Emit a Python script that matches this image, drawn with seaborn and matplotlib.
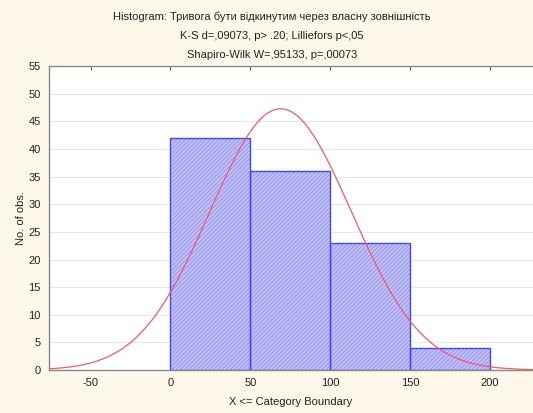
import numpy as np
import pandas as pd
import matplotlib
matplotlib.use("Agg")
import matplotlib.pyplot as plt
import seaborn as sns

# Data
bin_edges = [0, 50, 100, 150, 200]
bin_counts = [42, 36, 23, 4]
normal_mean = 69.0
normal_sd = 44.3
x_ticks = [-50, 0, 50, 100, 150, 200]
y_ticks = list(range(0, 56, 5))
title_lines = [
    "Histogram: Тривога бути відкинутим через власну зовнішність",
    "K-S d=,09073, p> .20; Lilliefors p<,05",
    "Shapiro-Wilk W=,95133, p=,00073",
]
x_label = "X <= Category Boundary"
y_label = "No. of obs."

sns.set_style("white")
plt.rcParams['font.family'] = ['Liberation Sans', 'DejaVu Sans']
plt.rcParams['hatch.linewidth'] = 0.5
plt.rcParams['axes.unicode_minus'] = False

fig = plt.figure(figsize=(5.33, 4.13), dpi=100, facecolor="#fdf8ea")
ax = fig.add_axes([0.092, 0.104, 0.908, 0.736])
ax.set_facecolor("white")

df = pd.DataFrame({"x": [e + 25 for e in bin_edges[:-1]], "w": bin_counts})
# hatched fill
sns.histplot(data=df, x="x", weights="w", bins=bin_edges, ax=ax,
             color="#bdbdf5", edgecolor="#8e8eee", linewidth=0.0, alpha=1.0)
for p in ax.patches:
    p.set_hatch("////////")
    p.set_facecolor("#c0c0f6")
    p.set_edgecolor("#8a8aee")
    p.set_linewidth(0)
n_fill = len(ax.patches)
# outlines
sns.histplot(data=df, x="x", weights="w", bins=bin_edges, ax=ax,
             fill=False, color="#4646e6", edgecolor="#4646e6", linewidth=1.0)
for p in ax.patches[n_fill:]:
    p.set_edgecolor("#4646e6")
    p.set_facecolor("none")
    p.set_linewidth(1.0)

N = sum(bin_counts)
bw = bin_edges[1] - bin_edges[0]
xs = np.linspace(-80, 230, 400)
ys = N * bw * np.exp(-0.5 * ((xs - normal_mean) / normal_sd) ** 2) / (normal_sd * np.sqrt(2 * np.pi))
sns.lineplot(x=xs, y=ys, ax=ax, color="#ee5a6e", linewidth=0.9)

ax.set_xlim(-76, 227)
ax.set_ylim(0, 55)
ax.set_xticks(x_ticks)
ax.set_yticks(y_ticks)
ax.yaxis.grid(True, color="#e8e8e8", linewidth=0.8)
ax.set_axisbelow(True)
ax.tick_params(direction="in", length=3, top=True, right=False, labelsize=8,
               colors="#555555", labelcolor="#222222", pad=6)
for s in ["left", "bottom", "top"]:
    ax.spines[s].set_color("#888888")
    ax.spines[s].set_linewidth(1.0)
ax.spines["right"].set_visible(False)
ax.set_xlabel(x_label, fontsize=8, color="#222222", labelpad=6)
ax.set_ylabel(y_label, fontsize=8, color="#222222", labelpad=2)

for i, t in enumerate(title_lines):
    fig.text(0.51, 1 - (17 + 19 * i) / 413, t, ha="center", va="center",
             fontsize=8, color="#222222")

fig.savefig("out.png", dpi=100, facecolor=fig.get_facecolor())
